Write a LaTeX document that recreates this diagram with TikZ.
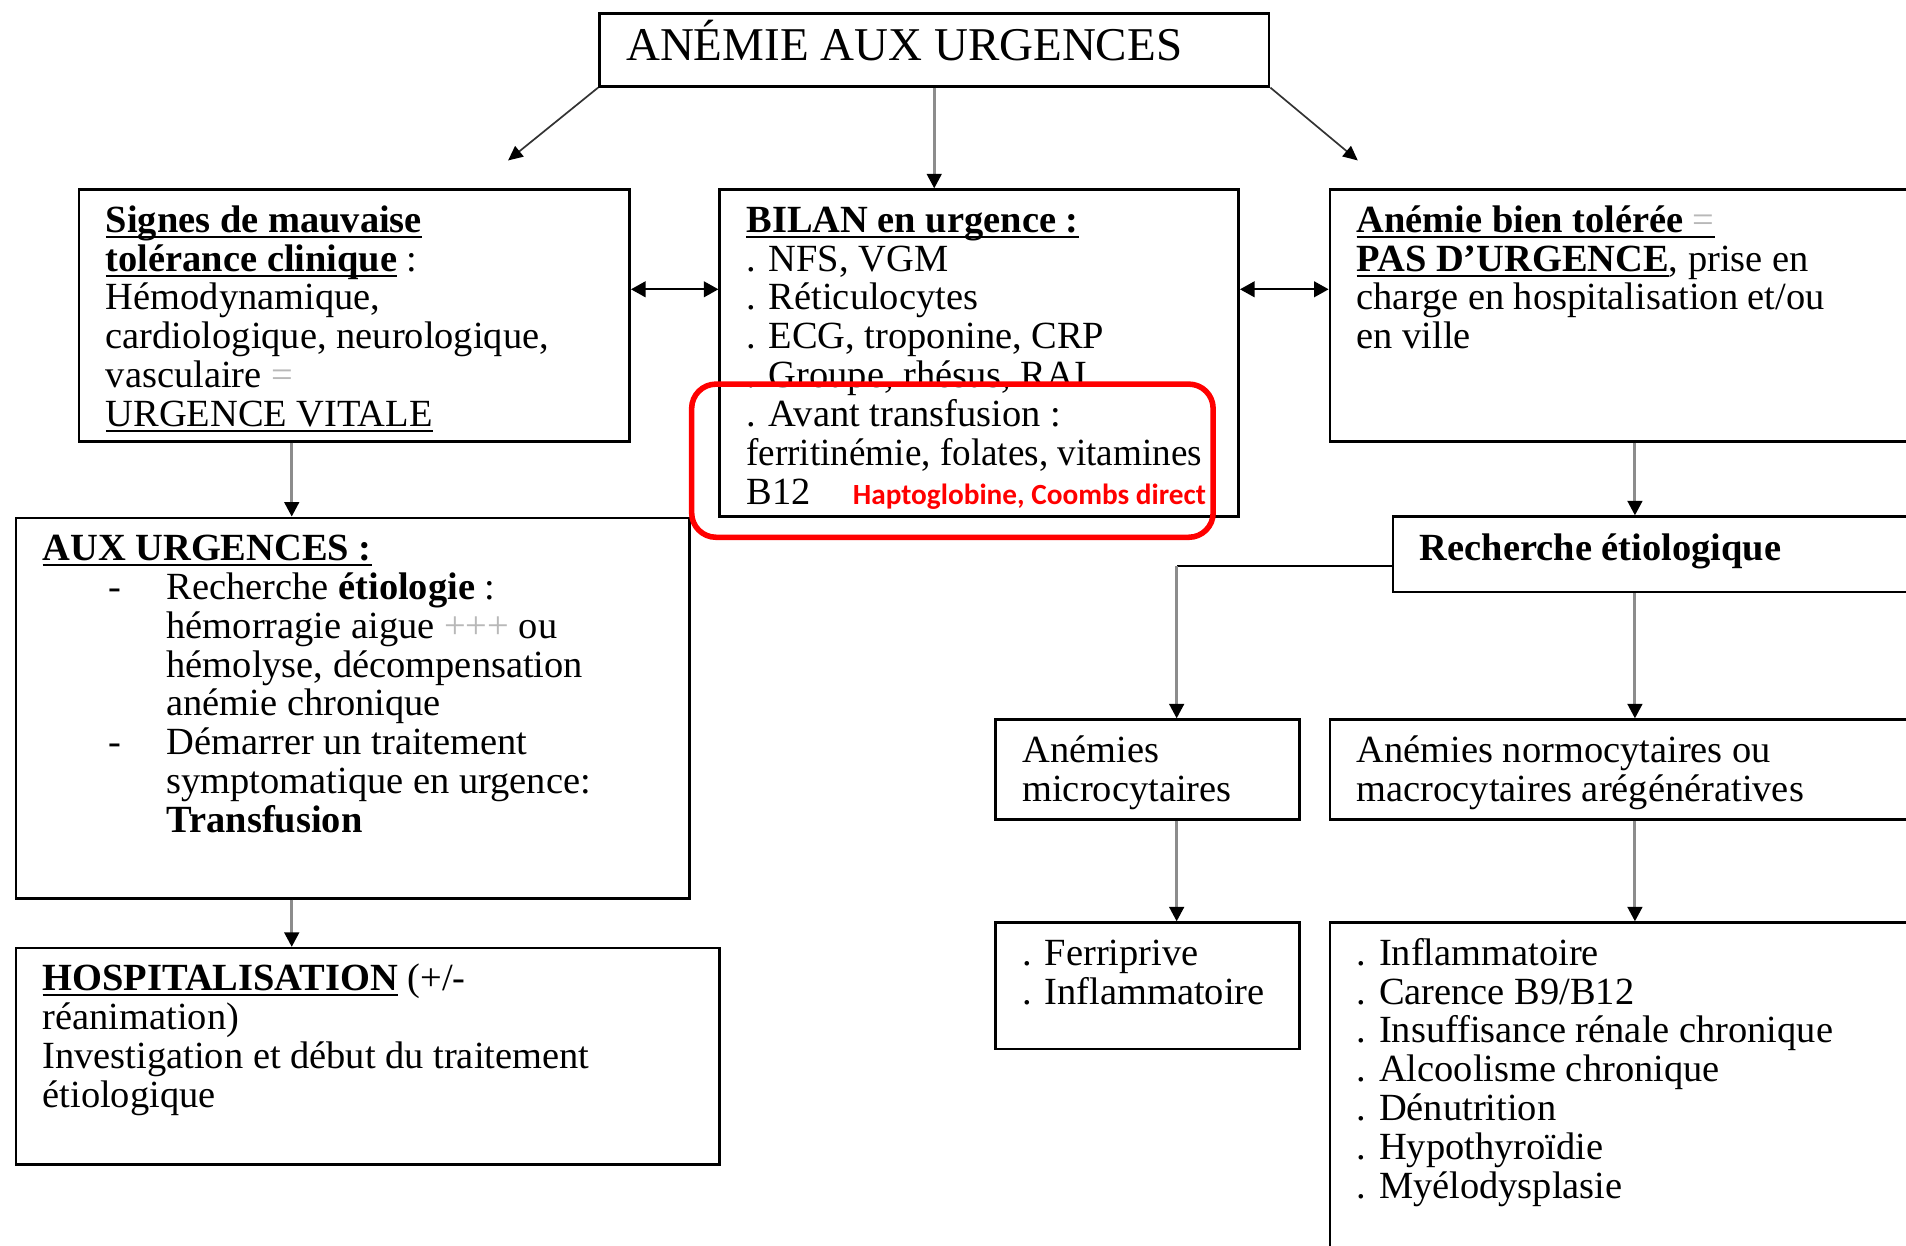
\documentclass[tikz,border=0pt]{standalone}
\usepackage{graphicx}
\usepackage{fontspec}
\setmainfont{Liberation Serif}
\newfontfamily\calibri{Carlito}
\usetikzlibrary{arrows.meta}

\newlength\px
\setlength\px{0.2mm}
\newsavebox\soulbox
\newcommand\souligne[1]{\sbox\soulbox{#1}\leavevmode\rlap{\rule[-2.6pt]{\wd\soulbox}{1pt}}\usebox\soulbox}
\newcommand\boxtxt[4][35]{\parbox[c][#3\px][t]{#2\px}{\raggedright\leftskip=22\px\lineskiplimit=-20pt\rule{0pt}{#1\px}#4}}
\newcommand\tiret{\makebox[102\px][l]{\hspace*{54\px}-}}
\newcommand\retrait{\hspace*{102\px}}

\definecolor{flechegris}{gray}{0.55}
\definecolor{signegris}{gray}{0.72}

\tikzset{
  box/.style={draw, line width=1.2pt, anchor=north west, inner sep=0pt,
    font=\fontsize{18}{18.2}\selectfont},
  link/.style={draw=flechegris, line width=1.4pt, -{Triangle[length=2.4mm,width=2.4mm,color=black]}},
  diag/.style={draw=black!80, line width=0.8pt, -{Triangle[length=2.4mm,width=2.2mm,color=black]}},
  bothway/.style={line width=0.8pt, {Triangle[length=2.4mm,width=2.6mm]}-{Triangle[length=2.4mm,width=2.6mm]}},
  cadre/.style={draw=red, line width=2.6pt, rounded corners=4mm}
}

\begin{document}
\begin{tikzpicture}[x=0.2mm,y=-0.2mm]
  \useasboundingbox (0,0) rectangle (1568,1025);
  \clip (0,0) rectangle (1568,1025);
  \node[box, font=\fontsize{22}{24}\selectfont] (titre) at (492,10) {\boxtxt[39]{551}{60}{ANÉMIE AUX URGENCES}};
  \node[box] (signes) at (64,155) {\boxtxt{453}{207}{\souligne{\textbf{Signes de mauvaise}}\\
    \souligne{\textbf{tolérance clinique}} :\\
    Hémodynamique,\\
    cardiologique, neurologique,\\
    vasculaire {\color{signegris}=}\\
    \souligne{URGENCE VITALE}}};
  \node[box] (bilan) at (591,155) {\boxtxt{427}{269}{\souligne{\textbf{BILAN en urgence :}}\\
    . NFS, VGM\\
    . Réticulocytes\\
    . ECG, troponine, CRP\\
    . Groupe, rhésus, RAI\\
    . Avant transfusion :\\
    \scalebox{0.965}[1]{ferritinémie, folates, vitamines}\\
    B12\hfill{\calibri\bfseries\fontsize{13.7}{14}\selectfont\color{red}Haptoglobine, Coombs direct}\hspace*{27\px}}};
  \node[box] (tolere) at (1093,155) {\boxtxt{600}{207}{\souligne{\textbf{Anémie bien tolérée} {\color{signegris}=}}\\
    \souligne{\textbf{PAS D’URGENCE}}, prise en\\
    charge en hospitalisation et/ou\\
    en ville}};
  \node[box] (recherche) at (1145,424) {\boxtxt[36]{600}{62}{\textbf{Recherche étiologique}}};
  \node[box] (urgences) at (12,425) {\boxtxt{554}{313}{\souligne{\textbf{AUX URGENCES :}}\\
    \tiret Recherche \textbf{étiologie} :\\
    \retrait hémorragie aigue {\color{signegris}+++} ou\\
    \retrait hémolyse, décompensation\\
    \retrait anémie chronique\\
    \tiret Démarrer un traitement\\
    \retrait symptomatique en urgence:\\
    \retrait \textbf{Transfusion}}};
  \node[box] (hospit) at (12,779) {\boxtxt{579}{178}{\souligne{\textbf{HOSPITALISATION}} (+/-\\
    réanimation)\\
    Investigation et début du traitement\\
    étiologique}};
  \node[box] (micro) at (818,591) {\boxtxt{250}{82}{Anémies\\
    microcytaires}};
  \node[box] (normo) at (1093,591) {\boxtxt{600}{82}{Anémies normocytaires ou\\
    macrocytaires arégénératives}};
  \node[box] (ferri) at (818,758) {\boxtxt{250}{104}{. Ferriprive\\
    . Inflammatoire}};
  \node[box] (causes) at (1093,758) {\boxtxt{600}{400}{. Inflammatoire\\
    . Carence B9/B12\\
    . Insuffisance rénale chronique\\
    . Alcoolisme chronique\\
    . Dénutrition\\
    . Hypothyroïdie\\
    . Myélodysplasie}};
  \draw[cadre] (569,316) rectangle (998,442);
  \coordinate (gauche) at (418,132);
  \coordinate (droite) at (1117,132);
  \coordinate (coin) at (968,466);
  \draw[diag] (titre.south west) -- (gauche);
  \draw[diag] (titre.south east) -- (droite);
  \draw[link] (titre.south) -- (titre.south |- bilan.north);
  \draw[bothway] (signes.east |- 0,238) -- (bilan.west |- 0,238);
  \draw[bothway] (bilan.east |- 0,238) -- (tolere.west |- 0,238);
  \draw[link] (signes.south -| 240,0) -- (urgences.north -| 240,0);
  \draw[link] (urgences.south -| 240,0) -- (hospit.north -| 240,0);
  \draw[link] (tolere.south -| 1345,0) -- (recherche.north -| 1345,0);
  \draw[line width=0.9pt] (recherche.west |- coin) -- (coin);
  \draw[link] (coin) -- (micro.north -| coin);
  \draw[link] (recherche.south -| 1345,0) -- (normo.north -| 1345,0);
  \draw[link] (micro.south -| coin) -- (ferri.north -| coin);
  \draw[link] (normo.south -| 1345,0) -- (causes.north -| 1345,0);
\end{tikzpicture}
\end{document}
